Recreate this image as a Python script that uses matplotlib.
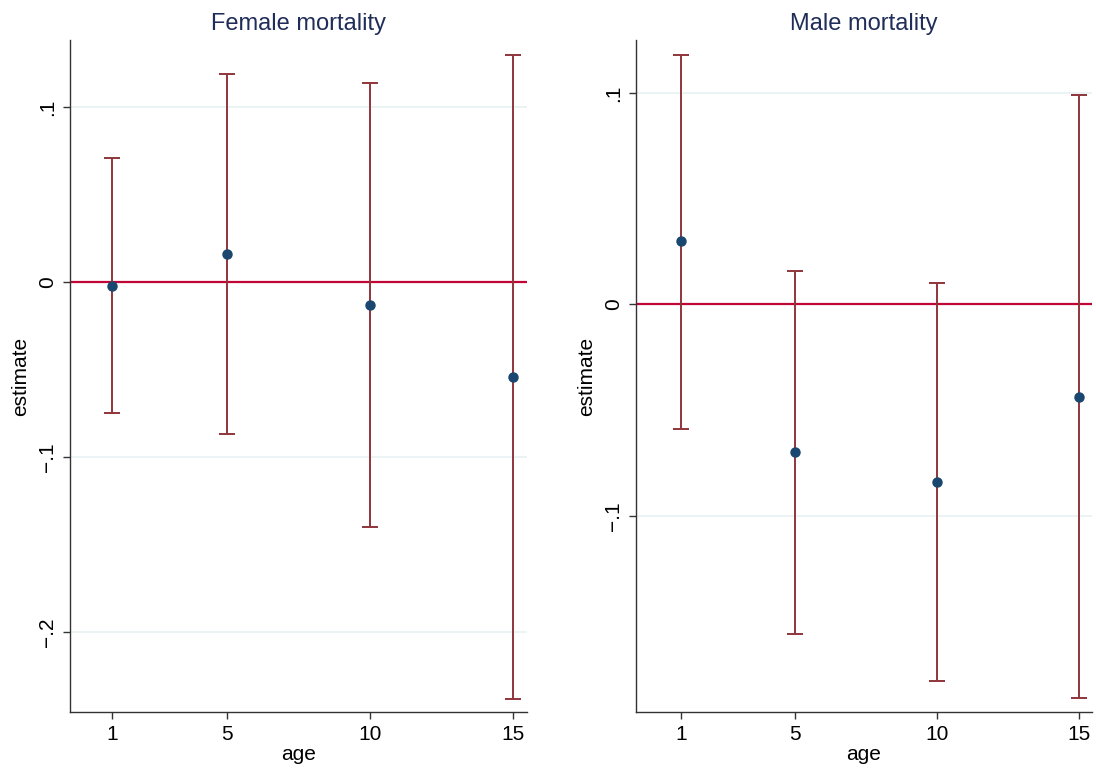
import matplotlib
matplotlib.use("Agg")
import matplotlib.pyplot as plt

plt.rcParams['font.family'] = ['Liberation Sans', 'DejaVu Sans']

# --- data ---
ages = [1, 5, 10, 15]
age_ticks = [1, 5, 10, 15]

female_est = [-0.002, 0.016, -0.013, -0.054]
female_lo = [-0.075, -0.087, -0.140, -0.238]
female_hi = [0.071, 0.119, 0.114, 0.130]

male_est = [0.030, -0.070, -0.084, -0.044]
male_lo = [-0.059, -0.156, -0.178, -0.186]
male_hi = [0.118, 0.016, 0.010, 0.099]

female_yticks = [0.1, 0.0, -0.1, -0.2]
female_ylabels = ['.1', '0', '\u2212.1', '\u2212.2']
male_yticks = [0.1, 0.0, -0.1]
male_ylabels = ['.1', '0', '\u2212.1']

bar_col = '#90353b'
dot_col = '#1a476f'
zero_col = '#c10534'
grid_col = '#eaf2f3'
title_col = '#1f2d58'

fig = plt.figure(figsize=(10.96, 7.78), dpi=100)
ax1 = fig.add_axes([70/1096, 1-712/778, (527-70)/1096, (712-40)/778])
ax2 = fig.add_axes([636/1096, 1-712/778, (1092-636)/1096, (712-40)/778])


def draw_panel(ax, est, lo, hi, yticks, ylabels, ylim, xlim, title):
    for t in yticks:
        ax.axhline(t, color=grid_col, lw=1.3, zorder=0)
    ax.axhline(0, color=zero_col, lw=1.6, zorder=1)
    yerr = [[e - l for e, l in zip(est, lo)], [h - e for e, h in zip(est, hi)]]
    ax.errorbar(ages, est, yerr=yerr, fmt='none', ecolor=bar_col, elinewidth=1.4,
                capsize=6, capthick=1.4, zorder=2)
    ax.plot(ages, est, 'o', color=dot_col, ms=6.5, zorder=3)
    ax.set_xlim(*xlim)
    ax.set_ylim(*ylim)
    ax.set_xticks(age_ticks)
    ax.set_xticklabels([str(a) for a in age_ticks])
    ax.set_yticks(yticks)
    ax.set_yticklabels(ylabels, rotation=90, va='center')
    for s in ['top', 'right']:
        ax.spines[s].set_visible(False)
    for s in ['left', 'bottom']:
        ax.spines[s].set_color('#333333')
        ax.spines[s].set_linewidth(1.0)
    ax.tick_params(axis='both', labelsize=15, length=5, width=1.0, color='#333333', pad=4)
    ax.set_xlabel('age', fontsize=15, labelpad=1)
    ax.set_ylabel('estimate', fontsize=15, labelpad=6)
    ax.set_title(title, fontsize=17, color=title_col, pad=7)


draw_panel(ax1, female_est, female_lo, female_hi, female_yticks, female_ylabels,
           (-0.2457, 0.1383), (-0.47, 15.49), 'Female mortality')
draw_panel(ax2, male_est, male_lo, male_hi, male_yticks, male_ylabels,
           (-0.1927, 0.125), (-0.575, 15.455), 'Male mortality')

fig.savefig('out.png', dpi=100, facecolor='white')
